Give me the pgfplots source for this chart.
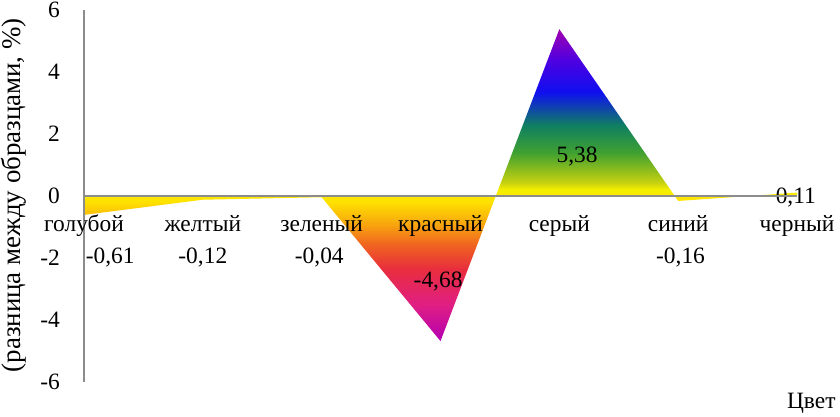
\documentclass[border=0pt]{standalone}
\usepackage{fontspec}
\setmainfont{Liberation Serif}
\usepackage{pgfplots}
\pgfplotsset{compat=1.18}
\definecolor{axgray}{RGB}{140,140,140}
% vertical rainbow fill, 25bp..75bp maps onto the area's bounding box
\pgfdeclareverticalshading{rainbowarea}{100bp}{
  rgb(0bp)=(0.70,0,0.70);
  rgb(25bp)=(0.70,0,0.70);
  rgb(30.9bp)=(0.88,0.12,0.51);
  rgb(36.6bp)=(0.91,0.18,0.24);
  rgb(40.3bp)=(0.94,0.38,0.13);
  rgb(43.5bp)=(0.97,0.63,0.06);
  rgb(47.3bp)=(1,0.88,0);
  rgb(49.3bp)=(0.96,0.94,0);
  rgb(50.4bp)=(0.78,0.82,0.06);
  rgb(55.2bp)=(0.25,0.63,0.19);
  rgb(59.6bp)=(0.06,0.50,0.38);
  rgb(64.9bp)=(0.06,0.06,0.94);
  rgb(70.1bp)=(0.31,0,0.88);
  rgb(75bp)=(0.63,0,0.69);
  rgb(100bp)=(0.63,0,0.69)}
\newcommand{\lbl}{\fontsize{23.5}{26}\selectfont}

\begin{document}
\begin{tikzpicture}
\path[use as bounding box] (-84bp,-35bp) rectangle (756bp,382bp);
\begin{axis}[
    scale only axis, width=713bp, height=372bp,
    xmin=0, xmax=6, ymin=-6, ymax=6,
    clip=false,
    axis x line=middle, axis y line=left,
    hide obscured x ticks=false,
    axis line style={axgray, line width=1.5bp, -},
    axis on top,
    xtick={0,1,2,3,4,5,6},
    xticklabels={голубой,желтый,зеленый,красный,серый,синий,черный},
    ytick={-6,-4,-2,0,2,4,6},
    yticklabels={-6,-4,-2,0,2,4,6},
    major tick length=0pt,
    tick label style={font=\lbl},
    xticklabel style={anchor=base, yshift=-35bp, inner sep=0pt},
    yticklabel style={anchor=east, xshift=-24bp, inner sep=0pt},
    ylabel={(разница между образцами, \%)},
    ylabel style={font=\fontsize{27}{29}\selectfont, at={(axis description cs:-0.099,0.502)}, anchor=center},
    xlabel={Цвет},
    xlabel style={font=\lbl, at={(axis description cs:1.02,-0.056)}, anchor=center},
]
\addplot[draw=none, shade, shading=rainbowarea] coordinates {
    (0,-0.61) (1,-0.12) (2,-0.04) (3,-4.68) (4,5.38) (5,-0.16) (6,0.11)
} \closedcycle;

\node[anchor=base, font=\lbl] at (axis cs:0.22,-2.18) {-0,61};
\node[anchor=base, font=\lbl] at (axis cs:1.00,-2.18) {-0,12};
\node[anchor=base, font=\lbl] at (axis cs:1.98,-2.18) {-0,04};
\node[anchor=base, font=\lbl] at (axis cs:2.98,-2.96) {-4,68};
\node[anchor=base, font=\lbl] at (axis cs:4.15,1.08) {5,38};
\node[anchor=base, font=\lbl] at (axis cs:5.02,-2.18) {-0,16};
\node[anchor=base, font=\lbl] at (axis cs:5.99,-0.24) {0,11};
\end{axis}
\end{tikzpicture}
\end{document}
